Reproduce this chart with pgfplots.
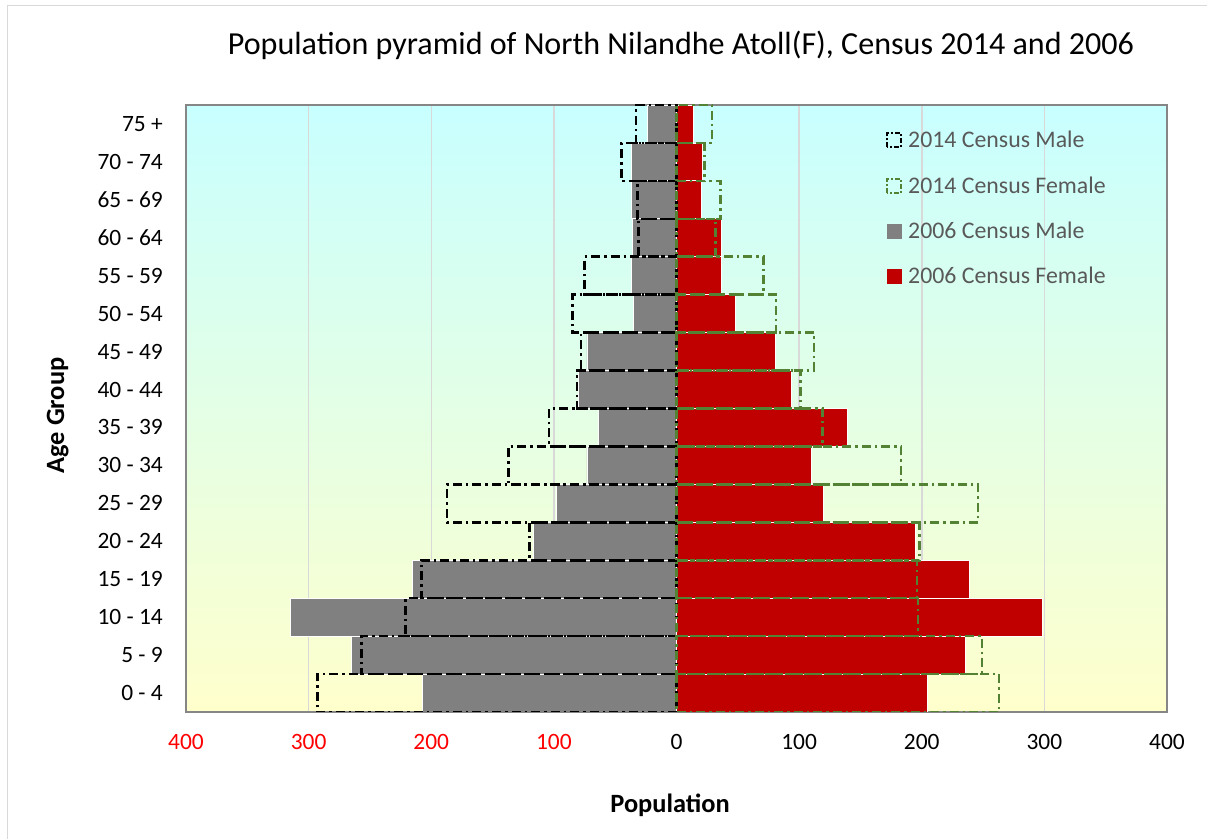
\documentclass[border=0pt]{standalone}
\usepackage{pgfplots}
\pgfplotsset{compat=1.18}
\usepackage{pgfplotstable}
\usepackage{fontspec}
\setmainfont{Carlito}

\definecolor{barred}{HTML}{C00000}
\definecolor{bargray}{HTML}{808080}
\definecolor{cgreen}{HTML}{548235}
\definecolor{bgtop}{HTML}{C8FFFF}
\definecolor{bgbot}{HTML}{FFFFCC}
\definecolor{framegray}{HTML}{868686}
\definecolor{gridgray}{HTML}{D9D9D9}
\definecolor{legtext}{HTML}{595959}

% age groups 0-4 ... 75+ as y = 0 ... 15, males negative
\pgfplotstableread{
y   m06   f06   m14   f14
0   -207  205   -293  263
1   -265  236   -257  249
2   -315  298   -221  197
3   -215  239   -208  196
4   -117  195   -120  198
5   -98   120   -187  246
6   -73   110   -137  183
7   -64   139   -104  119
8   -80   94    -81   101
9   -73   81    -78   112
10  -35   48    -85   81
11  -37   37    -75   71
12  -36   37    -31   32
13  -37   20    -32   36
14  -37   21    -45   23
15  -24   14    -33   29
}\pyr

\begin{document}
\begin{tikzpicture}
\useasboundingbox (0,0) rectangle (1207bp,839bp);
\draw[gridgray, line width=1bp] (7bp,-6bp) rectangle (1212bp,833bp);

\begin{axis}[
  at={(186bp,127bp)}, anchor=south west,
  scale only axis, width=981bp, height=607bp,
  xmin=-400, xmax=400, ymin=-0.5, ymax=15.5,
  axis background/.style={top color=bgtop, bottom color=bgbot},
  axis line style={draw=framegray, line width=1.5bp},
  xmajorgrids, major grid style={draw=gridgray, line width=1.5bp},
  major tick length=0pt,
  xtick={-400,-300,...,400},
  xticklabels={\textcolor{red}{400},\textcolor{red}{300},\textcolor{red}{200},\textcolor{red}{100},0,100,200,300,400},
  ytick={0,...,15},
  yticklabels={0 - 4,5 - 9,10 - 14,15 - 19,20 - 24,25 - 29,30 - 34,35 - 39,40 - 44,45 - 49,50 - 54,55 - 59,60 - 64,65 - 69,70 - 74,75 +},
  /pgf/number format/assume math mode=true,
  ticklabel style={font=\fontsize{23.5}{28}\selectfont},
  xticklabel style={anchor=center, yshift=-30bp, inner sep=0pt},
  yticklabel style={anchor=east, xshift=-23bp, inner sep=0pt},
  xbar, bar width=1, bar shift=0pt,
  legend cell align=left,
  legend style={at={(0.7136,0.957)}, anchor=north west, draw=none, fill=none,
    inner sep=0pt, row sep=27.3bp,
    font=\fontsize{23.9}{28}\selectfont, text=legtext,
    nodes={inner sep=0pt},
    /tikz/every odd column/.append style={column sep=6bp}},
]

\addlegendimage{legend image code/.code={\draw[black, line width=2bp, dash pattern=on 5bp off 2bp on 2bp off 2bp] (0bp,-7bp) rectangle (14bp,7bp);}}
\addlegendentry{2014 Census Male}
\addlegendimage{legend image code/.code={\draw[cgreen, line width=2bp, dash pattern=on 5bp off 2bp on 2bp off 2bp] (0bp,-7bp) rectangle (14bp,7bp);}}
\addlegendentry{2014 Census Female}
\addlegendimage{legend image code/.code={\fill[bargray] (0bp,-7bp) rectangle (14bp,7bp);}}
\addlegendentry{2006 Census Male}
\addlegendimage{legend image code/.code={\fill[barred] (0bp,-7bp) rectangle (14bp,7bp);}}
\addlegendentry{2006 Census Female}

\addplot[forget plot, fill=bargray, draw=white, line width=0.8bp] table[x=m06, y=y] {\pyr};
\addplot[forget plot, fill=barred, draw=white, line width=0.8bp] table[x=f06, y=y] {\pyr};
\addplot[forget plot, fill=none, draw=black, line width=2.6bp, dash pattern=on 9bp off 4bp on 2.5bp off 4bp] table[x=m14, y=y] {\pyr};
\addplot[forget plot, fill=none, draw=cgreen, line width=2.6bp, dash pattern=on 9bp off 4bp on 2.5bp off 4bp] table[x=f14, y=y] {\pyr};
\end{axis}

\node[anchor=base, font=\fontsize{32.2}{38}\selectfont] at (681bp,784bp)
  {Population pyramid of North Nilandhe Atoll(F), Census 2014 and 2006};
\node[anchor=base, font=\fontsize{26.5}{31}\selectfont\bfseries] at (670bp,27bp) {Population};
\node[anchor=base, rotate=90, font=\fontsize{26.5}{31}\selectfont\bfseries] at (64bp,423.5bp) {Age Group};
\end{tikzpicture}
\end{document}
